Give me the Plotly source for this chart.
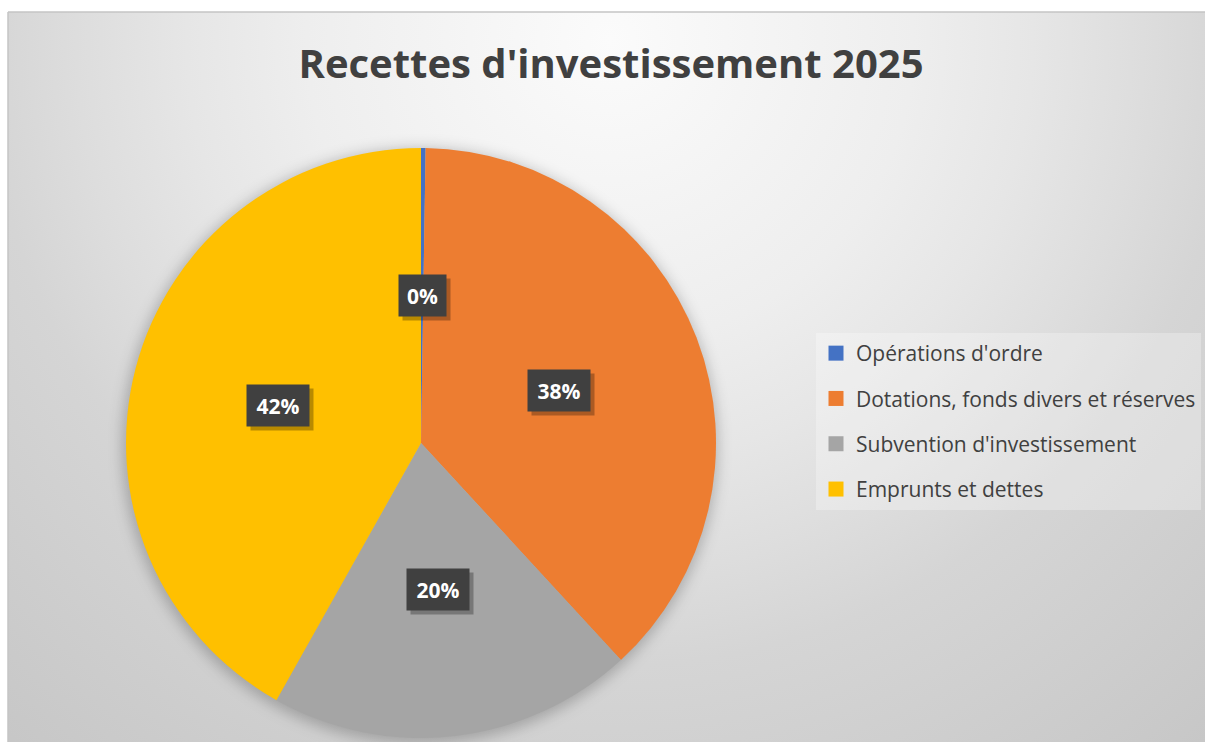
import math
import base64
import plotly.graph_objects as go

# ---------------- data ----------------
categories = [
    "Opérations d'ordre",
    "Dotations, fonds divers et réserves",
    "Subvention d'investissement",
    "Emprunts et dettes",
]
values = [0.25, 37.9, 20.0, 41.85]
colors = ["#4472C4", "#ED7D31", "#A5A5A5", "#FFC000"]
title_text = "Recettes d'investissement 2025"

# ---------------- layout constants ----------------
W, H = 1205, 742             # figure size (page margin removed below)
FRAME_X, FRAME_Y = 8, 12     # chart frame offset (white outside it)

# pie geometry (pixels)
PCX, PCY, PR = 421, 443, 295
dom_x = [(PCX - PR) / W, (PCX + PR) / W]
dom_y = [(H - PCY - PR) / H, (H - PCY + PR) / H]

cx = (dom_x[0] + dom_x[1]) / 2 * W
cy = H - (dom_y[0] + dom_y[1]) / 2 * H
R = 0.5 * min((dom_x[1] - dom_x[0]) * W, (dom_y[1] - dom_y[0]) * H)

fig = go.Figure()

fig.add_trace(go.Pie(
    labels=categories,
    values=values,
    marker=dict(colors=colors, line=dict(width=0)),
    sort=False,
    direction="clockwise",
    rotation=0,
    textinfo="none",
    showlegend=False,
    domain=dict(x=dom_x, y=dom_y),
    hoverinfo="label+percent",
))

# legend entries (one group per category so the gap can be tuned)
for i, (cat, col) in enumerate(zip(categories, colors)):
    fig.add_trace(go.Scatter(
        x=[None], y=[None], mode="markers", name=cat,
        marker=dict(symbol="square", size=15, color=col),
        legendgroup=f"g{i}", showlegend=True, hoverinfo="skip",
    ))

# ---------------- data labels ----------------
LBL_FONT = 21
total = sum(values)
annotations = []
cum = 0.0
for v in values:
    mid = (cum + v / 2) / total * 2 * math.pi
    cum += v
    px = cx + 0.5 * R * math.sin(mid)
    py = cy - 0.5 * R * math.cos(mid)
    txt = f"{round(v / total * 100)}%"
    box_w = 15.4 * len(txt)
    common = dict(x=px / W, y=1 - py / H, xref="paper", yref="paper",
                  xanchor="center", yanchor="middle",
                  showarrow=False, borderpad=8, width=box_w, height=25)
    shadow = dict(common)
    shadow.update(text="&nbsp;", bgcolor="rgba(0,0,0,0.28)", xshift=4, yshift=-4,
                  font=dict(family="Open Sans", size=LBL_FONT))
    annotations.append(shadow)
    main = dict(common)
    main.update(text=txt, bgcolor="#404040",
                font=dict(family="Open Sans", size=LBL_FONT, weight=700,
                          color="#ffffff"))
    annotations.append(main)

# ---------------- background (gradient + pie shadow) ----------------
bw, bh = W - FRAME_X, H - FRAME_Y
gcx, gcy = 602, 28
svg = f'''<svg xmlns="http://www.w3.org/2000/svg" width="{bw}" height="{bh}" viewBox="0 0 {bw} {bh}" preserveAspectRatio="none">
<defs>
<radialGradient id="g" gradientUnits="userSpaceOnUse" cx="{gcx}" cy="{gcy}" r="920">
<stop offset="0" stop-color="#fbfbfb"/>
<stop offset="0.33" stop-color="#eeeeee"/>
<stop offset="0.46" stop-color="#e6e6e6"/>
<stop offset="0.58" stop-color="#dddddd"/>
<stop offset="0.68" stop-color="#d5d5d5"/>
<stop offset="1" stop-color="#c7c7c7"/>
</radialGradient>
<filter id="b" x="-20%" y="-20%" width="140%" height="140%"><feGaussianBlur stdDeviation="7"/></filter>
</defs>
<rect x="0" y="0" width="{bw}" height="{bh}" fill="url(#g)"/>
<circle cx="{cx - FRAME_X - 1:.1f}" cy="{cy - FRAME_Y + 3:.1f}" r="{R + 3:.1f}" fill="#000" fill-opacity="0.22" filter="url(#b)"/>
</svg>'''
src = "data:image/svg+xml;base64," + base64.b64encode(svg.encode("utf-8")).decode("ascii")

fig.update_layout(
    width=W, height=H,
    margin=dict(l=0, r=0, t=0, b=0),
    paper_bgcolor="#ffffff",
    plot_bgcolor="rgba(0,0,0,0)",
    xaxis=dict(visible=False),
    yaxis=dict(visible=False),
    images=[dict(source=src, xref="paper", yref="paper",
                 x=FRAME_X / W, y=1 - FRAME_Y / H,
                 sizex=bw / W, sizey=bh / H,
                 xanchor="left", yanchor="top",
                 sizing="stretch", layer="below")],
    shapes=[
        dict(type="line", xref="paper", yref="paper",
             x0=FRAME_X / W, x1=1, y0=1 - FRAME_Y / H, y1=1 - FRAME_Y / H,
             line=dict(color="#c4c4c4", width=1.5)),
        dict(type="line", xref="paper", yref="paper",
             x0=FRAME_X / W, x1=FRAME_X / W, y0=0, y1=1 - FRAME_Y / H,
             line=dict(color="#c4c4c4", width=1.5)),
    ],
    title=dict(text=title_text, x=611 / W, xanchor="center",
               y=1 - 64 / H, yanchor="middle", yref="container",
               font=dict(family="Open Sans", size=40, weight=700, color="#404040")),
    legend=dict(x=816 / W, y=1 - 333 / H, xanchor="left", yanchor="top",
                bgcolor="rgba(255,255,255,0.28)", borderwidth=0,
                font=dict(family="Open Sans", size=21, color="#404040"),
                tracegroupgap=15, itemclick=False, itemdoubleclick=False),
    annotations=annotations,
    hovermode=False,
)

fig.write_html(
    "out.html",
    config={"displayModeBar": False},
    post_script=(
        "document.body.style.margin='0';"
        "document.documentElement.style.overflow='hidden';"
        "document.body.style.overflow='hidden';"
        "var s=document.createElement('style');"
        "s.textContent='::-webkit-scrollbar{display:none;width:0;height:0}"
        " html,body{scrollbar-width:none}';"
        "document.head.appendChild(s);"
    ),
)
